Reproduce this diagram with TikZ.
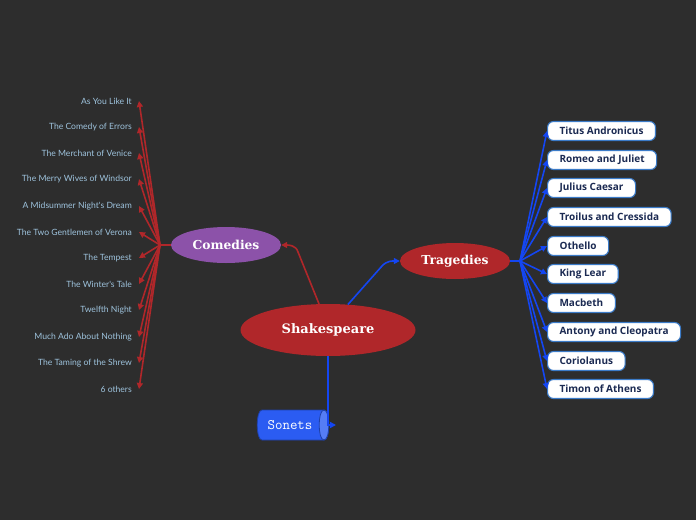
\documentclass[tikz,border=0pt]{standalone}
\usepackage{fontspec}
\usetikzlibrary{shapes.geometric,arrows.meta}
\newfontfamily\leaffont{Lato}
\newfontfamily\boxfont{Open Sans}
\newfontfamily\titlefont{DejaVu Serif}
\definecolor{bgcol}{HTML}{2D2D2D}
\definecolor{redcol}{HTML}{B0272A}
\definecolor{purplecol}{HTML}{8C52A9}
\definecolor{bluecol}{HTML}{1446F2}
\definecolor{sonfill}{HTML}{2B5CF2}
\definecolor{boxline}{HTML}{3B7BC8}
\definecolor{boxtext}{HTML}{1B2A52}
\definecolor{leaftext}{HTML}{9EC3DD}

\begin{document}
\begin{tikzpicture}[
    x=1pt, y=-1pt,
    main/.style={ellipse, fill=redcol, inner sep=0pt, minimum width=175pt, minimum height=52pt,
      text=white, font=\titlefont\bfseries\fontsize{13}{15}\selectfont},
    topic/.style={ellipse, inner sep=0pt, minimum width=110pt, minimum height=36pt,
      text=white, font=\titlefont\bfseries\fontsize{12.3}{14}\selectfont},
    sonet/.style={rectangle, fill=bgcol, minimum width=74pt, minimum height=32pt, inner sep=0pt,
      text=white, font=\ttfamily\fontsize{14.5}{16}\selectfont,
      path picture={
        % body with rounded left end
        \filldraw[fill=sonfill, draw=sonfill!70!black, line width=0.8pt]
          ([xshift=6pt,yshift=-1pt]path picture bounding box.north west)
            to[out=180, in=180, looseness=0.55] ([xshift=6pt,yshift=1pt]path picture bounding box.south west)
            -- ([xshift=-6pt,yshift=1pt]path picture bounding box.south east)
            to[out=0, in=0, looseness=0.55] ([xshift=-6pt,yshift=-1pt]path picture bounding box.north east)
            -- cycle;
        % end cap on the right
        \filldraw[fill=sonfill!80!white, draw=sonfill!70!black, line width=0.8pt]
          ([xshift=-6pt,yshift=-1pt]path picture bounding box.north east)
            to[out=180, in=180, looseness=0.55] ([xshift=-6pt,yshift=1pt]path picture bounding box.south east)
            to[out=0, in=0, looseness=0.55] ([xshift=-6pt,yshift=-1pt]path picture bounding box.north east);
      }},
    comleaf/.style={anchor=east, inner xsep=7pt, inner ysep=1pt, text=leaftext,
      font=\leaffont\fontsize{8.6}{10}\selectfont},
    traleaf/.style={anchor=west, draw=boxline, line width=1.1pt, fill=white, rounded corners=6pt,
      inner xsep=12pt, inner ysep=0pt, minimum height=19pt, text=boxtext,
      font=\boxfont\bfseries\fontsize{10}{12}\selectfont},
    redlink/.style={draw=redcol, line width=1.6pt, -{Triangle[length=6pt,width=6pt]}},
    bluelink/.style={draw=bluecol, line width=1.6pt, -{Triangle[length=6pt,width=6pt]}},
  ]

  % background and page size
  \fill[bgcol] (0,0) rectangle (696,520);
  \useasboundingbox (0,0) rectangle (696,520);

  %--------------------------------------
  % 1) central topic and main branches
  %--------------------------------------
  \node[main] (shak) at (328,330) {Shakespeare};
  \node[topic, fill=purplecol] (com) at (226,245) {Comedies};
  \node[topic, fill=redcol] (tra) at (455,261) {Tragedies};
  \node[sonet] (son) at (293,425) {\hspace*{-6pt}Sonets};

  % bends and free ends of the main links
  \coordinate (cbend) at (298,252);
  \coordinate (tbend) at (382,266);
  \coordinate (sontip) at (336,425);

  \draw[redlink] (shak.109) -- (cbend) to[out=105, in=0] (com.east);
  \draw[bluelink] (shak.52) -- (tbend) to[out=48, in=180] (tra.west);
  \draw[bluelink] (shak.south) |- (sontip);

  %--------------------------------------
  % 2) Comedies (text on the left)
  %--------------------------------------
  \coordinate (chub) at (160,245);
  \draw[draw=redcol, line width=1.6pt] (com.west) -- (chub);

  \node[comleaf] (c1)  at (139,101) {As You Like It};
  \node[comleaf] (c2)  at (139,127) {The Comedy of Errors};
  \node[comleaf] (c3)  at (139,153) {The Merchant of Venice};
  \node[comleaf] (c4)  at (139,179) {The Merry Wives of Windsor};
  \node[comleaf] (c5)  at (139,206) {A Midsummer Night's Dream};
  \node[comleaf] (c6)  at (139,232) {The Two Gentlemen of Verona};
  \node[comleaf] (c7)  at (139,258) {The Tempest};
  \node[comleaf] (c8)  at (139,284) {The Winter's Tale};
  \node[comleaf] (c9)  at (139,310) {Twelfth Night};
  \node[comleaf] (c10) at (139,337) {Much Ado About Nothing};
  \node[comleaf] (c11) at (139,363) {The Taming of the Shrew};
  \node[comleaf] (c12) at (139,389) {6 others};

  \draw[redlink] (chub) -- (c1.east);
  \draw[redlink] (chub) -- (c2.east);
  \draw[redlink] (chub) -- (c3.east);
  \draw[redlink] (chub) -- (c4.east);
  \draw[redlink] (chub) -- (c5.east);
  \draw[redlink] (chub) -- (c6.east);
  \draw[redlink] (chub) -- (c7.east);
  \draw[redlink] (chub) -- (c8.east);
  \draw[redlink] (chub) -- (c9.east);
  \draw[redlink] (chub) -- (c10.east);
  \draw[redlink] (chub) -- (c11.east);
  \draw[redlink] (chub) -- (c12.east);

  %--------------------------------------
  % 3) Tragedies (boxes on the right)
  %--------------------------------------
  \coordinate (thub) at (520,261);
  \draw[draw=bluecol, line width=1.6pt] (tra.east) -- (thub);

  \node[traleaf] (t1)  at (547,131) {Titus Andronicus};
  \node[traleaf] (t2)  at (547,160) {Romeo and Juliet};
  \node[traleaf] (t3)  at (547,188) {Julius Caesar};
  \node[traleaf] (t4)  at (547,217) {Troilus and Cressida};
  \node[traleaf] (t5)  at (547,246) {Othello};
  \node[traleaf] (t6)  at (547,274) {King Lear};
  \node[traleaf] (t7)  at (547,303) {Macbeth};
  \node[traleaf] (t8)  at (547,332) {Antony and Cleopatra};
  \node[traleaf] (t9)  at (547,361) {Coriolanus};
  \node[traleaf] (t10) at (547,389) {Timon of Athens};

  \draw[bluelink] (thub) -- (t1.west);
  \draw[bluelink] (thub) -- (t2.west);
  \draw[bluelink] (thub) -- (t3.west);
  \draw[bluelink] (thub) -- (t4.west);
  \draw[bluelink] (thub) -- (t5.west);
  \draw[bluelink] (thub) -- (t6.west);
  \draw[bluelink] (thub) -- (t7.west);
  \draw[bluelink] (thub) -- (t8.west);
  \draw[bluelink] (thub) -- (t9.west);
  \draw[bluelink] (thub) -- (t10.west);

\end{tikzpicture}
\end{document}
